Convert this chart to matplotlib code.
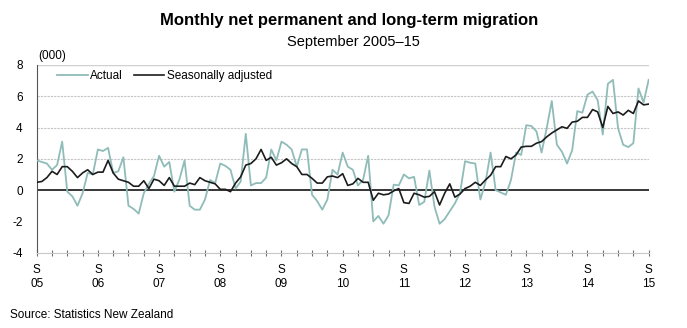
import matplotlib
matplotlib.use("Agg")
import matplotlib.pyplot as plt
import numpy as np

plt.rcParams['font.family'] = ['Liberation Sans', 'DejaVu Sans']
plt.rcParams['axes.unicode_minus'] = False

# monthly values, Sep 2005 - Sep 2015 (000)
actual = [1.9, 1.8, 1.7, 1.3, 1.6, 3.1, -0.1, -0.4, -1.0, -0.2, 1.1, 1.0,
          2.6, 2.5, 2.7, 1.1, 1.2, 2.1, -1.0, -1.2, -1.5, -0.2, 0.4, 0.9,
          2.2, 1.5, 1.8, -0.1, 0.7, 1.9, -1.0, -1.25, -1.25, -0.6, 0.65, 0.45,
          1.7, 1.55, 1.3, 0.1, 0.55, 3.6, 0.3, 0.45, 0.45, 0.8, 2.6, 1.9,
          3.1, 2.9, 2.6, 1.5, 2.6, 2.6, -0.3, -0.7, -1.25, -0.6, 1.3, 1.0,
          2.4, 1.5, 1.3, 0.3, 0.65, 2.2, -2.0, -1.65, -2.15, -1.6, 0.35, 0.3,
          1.0, 0.75, 0.85, -0.95, -0.75, 1.25, -1.05, -2.15, -1.85, -1.35, -0.85, -0.2,
          1.85, 1.75, 1.7, -0.6, 0.5, 2.4, 0.0, -0.15, -0.3, 0.65, 2.4, 2.25,
          4.15, 4.1, 3.75, 2.4, 3.95, 5.7, 2.9, 2.45, 1.7, 2.55, 5.05, 4.95,
          6.1, 6.3, 5.75, 3.55, 6.8, 7.05, 3.95, 2.9, 2.75, 3.0, 6.5, 5.6,
          7.05]
seas_adj = [0.5, 0.55, 0.8, 1.2, 1.0, 1.5, 1.5, 1.2, 0.8, 1.1, 1.3, 1.0,
            1.15, 1.15, 1.9, 1.1, 0.7, 0.6, 0.5, 0.25, 0.25, 0.6, 0.1, 0.7,
            0.6, 0.3, 0.8, 0.25, 0.25, 0.25, 0.45, 0.35, 0.8, 0.6, 0.5, 0.4,
            0.05, 0.05, -0.1, 0.45, 0.85, 1.6, 1.7, 2.0, 2.6, 1.9, 2.1, 1.6,
            1.75, 2.0, 1.7, 1.5, 1.0, 1.0, 0.75, 0.45, 0.45, 0.85, 0.9, 0.8,
            1.05, 0.3, 0.4, 0.75, 0.5, 0.5, -0.65, -0.2, -0.3, -0.25, -0.05, 0.1,
            -0.8, -0.85, -0.2, -0.3, -0.45, -0.4, -0.1, -0.95, -0.2, 0.4, -0.45, -0.25,
            0.1, 0.25, 0.5, 0.3, 0.65, 0.95, 1.5, 1.5, 2.15, 2.0, 2.25, 2.75,
            2.8, 2.8, 3.0, 3.1, 3.4, 3.65, 3.85, 4.05, 3.95, 4.35, 4.4, 4.65,
            4.65, 5.15, 5.0, 4.0, 5.35, 4.9, 5.0, 4.8, 5.1, 4.9, 5.7, 5.45,
            5.5]
years = ['05', '06', '07', '08', '09', '10', '11', '12', '13', '14', '15']

months = np.arange(len(actual))

fig = plt.figure(figsize=(6.87, 3.28), dpi=100)
ax = fig.add_axes([0.0534, 0.2296, 0.8908, 0.5723])

for y in [2, 4, 6]:
    ax.axhline(y, color='#c4c4c4', lw=0.8, ls=(0, (2, 1)), zorder=1)
ax.axhline(8, color='#d0d0d0', lw=1.0, zorder=1)
ax.axhline(0, color='#000000', lw=1.1, zorder=2)

ax.plot(months, actual, color='#8fbcb8', lw=1.3, label='Actual', zorder=3)
ax.plot(months, seas_adj, color='#1c1c1c', lw=1.2, label='Seasonally adjusted', zorder=4)

ax.set_xlim(0, 120)
ax.set_ylim(-4, 8)
ax.set_yticks(range(-4, 9, 2))
ax.tick_params(axis='y', length=0, pad=10, labelsize=8.5)
ax.set_xticks(range(0, 121, 12))
ax.set_xticklabels(['S\n' + y for y in years], fontsize=8.5, linespacing=1.25)
ax.set_xticks(range(0, 121, 3), minor=True)
ax.tick_params(axis='x', which='both', direction='inout', length=4,
               color='#707070', width=0.8, pad=6)

for s in ['top', 'right']:
    ax.spines[s].set_visible(False)
ax.spines['left'].set_color('#555555')
ax.spines['bottom'].set_color('#c8c8c8')

ax.legend(loc='upper left', bbox_to_anchor=(0.022, 1.01), ncol=2, frameon=False,
          fontsize=8.5, handlelength=2.6, handletextpad=0.2, columnspacing=0.9,
          borderaxespad=0.2)

fig.text(0.508, 0.938, 'Monthly net permanent and long-term migration',
         ha='center', va='center', fontsize=12, fontweight='bold')
fig.text(0.514, 0.873, 'September 2005\u201315', ha='center', va='center', fontsize=10.5)
fig.text(0.055, 0.83, '(000)', ha='left', va='center', fontsize=8.5)
fig.text(0.015, 0.04, 'Source: Statistics New Zealand', ha='left', va='center', fontsize=8.5)

fig.savefig('out.png', dpi=100)
